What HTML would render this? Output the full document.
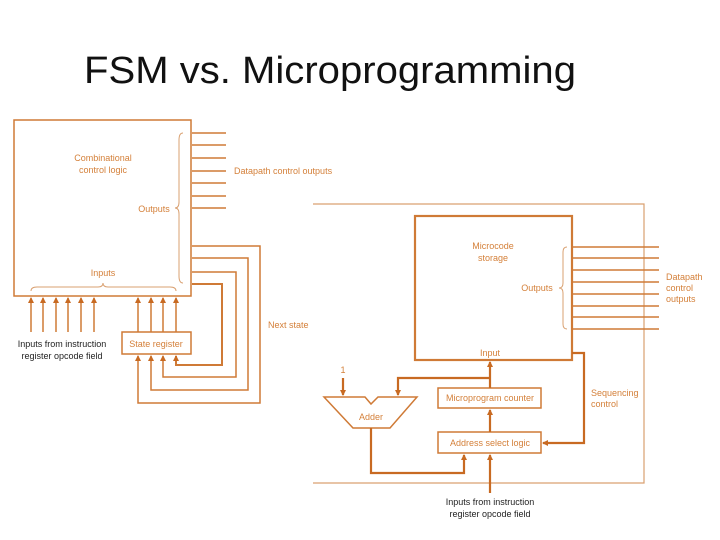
<!DOCTYPE html>
<html><head><style>
html,body{margin:0;padding:0;background:#fff;}
svg{display:block;}
text{font-family:"Liberation Sans",sans-serif;}
.t{font-size:9px;fill:#d4803a;}
.k{font-size:9px;fill:#222;}
</style></head><body>
<svg width="720" height="540" viewBox="0 0 720 540" xmlns="http://www.w3.org/2000/svg">
<defs>
<marker id="a" markerWidth="6" markerHeight="6" refX="5" refY="3" orient="auto" markerUnits="userSpaceOnUse"><path d="M0,0 L6,3 L0,6 z" fill="#c86a22"/></marker>
</defs>
<text x="84" y="83" font-size="38" fill="#111" textLength="492" lengthAdjust="spacingAndGlyphs">FSM vs. Microprogramming</text>

<g stroke="#cf7a36" fill="none" stroke-width="1.5">
<rect x="14" y="120" width="177" height="176"/>
<path d="M192 133H226M192 145H226M192 158H226M192 171H226M192 183H226M192 196H226M192 208H226"/>
<rect x="122" y="332" width="69" height="22"/>
<path d="M192 246H260V403H138V356" marker-end="url(#a)"/>
<path d="M192 258H248V390H151V356" marker-end="url(#a)"/>
<path d="M192 272H236V377H163V356" marker-end="url(#a)"/>
<path d="M192 284H222V365H176V356" marker-end="url(#a)" stroke-width="2"/>
<g marker-end="url(#a)">
<path d="M138 332V298"/><path d="M151 332V298"/><path d="M163 332V298"/><path d="M176 332V298"/>
<path d="M31 332V298"/><path d="M43 332V298"/><path d="M56 332V298"/><path d="M68 332V298"/><path d="M81 332V298"/><path d="M94 332V298"/>
</g>
</g>
<g stroke="#d9a070" fill="none" stroke-width="1">
<path d="M183 133Q179 133 179 140V202Q179 208 175 208Q179 208 179 214V276Q179 283 183 283"/>
<path d="M31 291Q31 287 37 287H98Q103 287 103 283Q103 287 108 287H170Q176 287 176 291"/>
<path d="M567 247Q563 247 563 252V283Q563 288 559 288Q563 288 563 293V324Q563 329 567 329"/>
</g>
<text class="t" x="103" y="161" text-anchor="middle">Combinational</text>
<text class="t" x="103" y="173" text-anchor="middle">control logic</text>
<text class="t" x="154" y="212" text-anchor="middle">Outputs</text>
<text class="t" x="103" y="276" text-anchor="middle">Inputs</text>
<text class="t" x="234" y="174">Datapath control outputs</text>
<text class="t" x="268" y="328">Next state</text>
<text class="t" x="156" y="347" text-anchor="middle">State register</text>
<text class="k" x="62" y="347" text-anchor="middle">Inputs from instruction</text>
<text class="k" x="62" y="359" text-anchor="middle">register opcode field</text>

<path d="M313 204H644V483H313" stroke="#d9a070" fill="none" stroke-width="1.2"/>
<g stroke="#cf7a36" fill="none" stroke-width="1.5">
<rect x="415" y="216" width="157" height="144" stroke-width="2.2"/>
<path d="M572 247H659M572 258H659M572 270H659M572 282H659M572 294H659M572 306H659M572 317H659M572 329H659"/>
<rect x="438" y="388" width="103" height="20"/>
<rect x="438" y="432" width="103" height="21"/>
<path d="M324 397H365L371 404L378 397H417L390 428H353Z"/>
</g>
<g stroke="#c86a22" fill="none" stroke-width="2.2">
<path d="M572 353H584V443H543" marker-end="url(#a)"/>
<path d="M490 388V362" marker-end="url(#a)"/>
<path d="M490 432V410" marker-end="url(#a)"/>
<path d="M490 378H398V395" marker-end="url(#a)"/>
<path d="M343 378V395" marker-end="url(#a)"/>
<path d="M371 428V473H464V455" marker-end="url(#a)"/>
<path d="M490 493V455" marker-end="url(#a)"/>
</g>
<text class="t" x="493" y="249" text-anchor="middle">Microcode</text>
<text class="t" x="493" y="261" text-anchor="middle">storage</text>
<text class="t" x="537" y="291" text-anchor="middle">Outputs</text>
<text class="t" x="490" y="356" text-anchor="middle">Input</text>
<text class="t" x="666" y="280">Datapath</text>
<text class="t" x="666" y="291">control</text>
<text class="t" x="666" y="302">outputs</text>
<text class="t" x="591" y="396">Sequencing</text>
<text class="t" x="591" y="407">control</text>
<text class="t" x="343" y="373" text-anchor="middle">1</text>
<text class="t" x="371" y="420" text-anchor="middle">Adder</text>
<text class="t" x="490" y="401" text-anchor="middle">Microprogram counter</text>
<text class="t" x="490" y="446" text-anchor="middle">Address select logic</text>
<text class="k" x="490" y="505" text-anchor="middle">Inputs from instruction</text>
<text class="k" x="490" y="517" text-anchor="middle">register opcode field</text>
</svg>
</body></html>
